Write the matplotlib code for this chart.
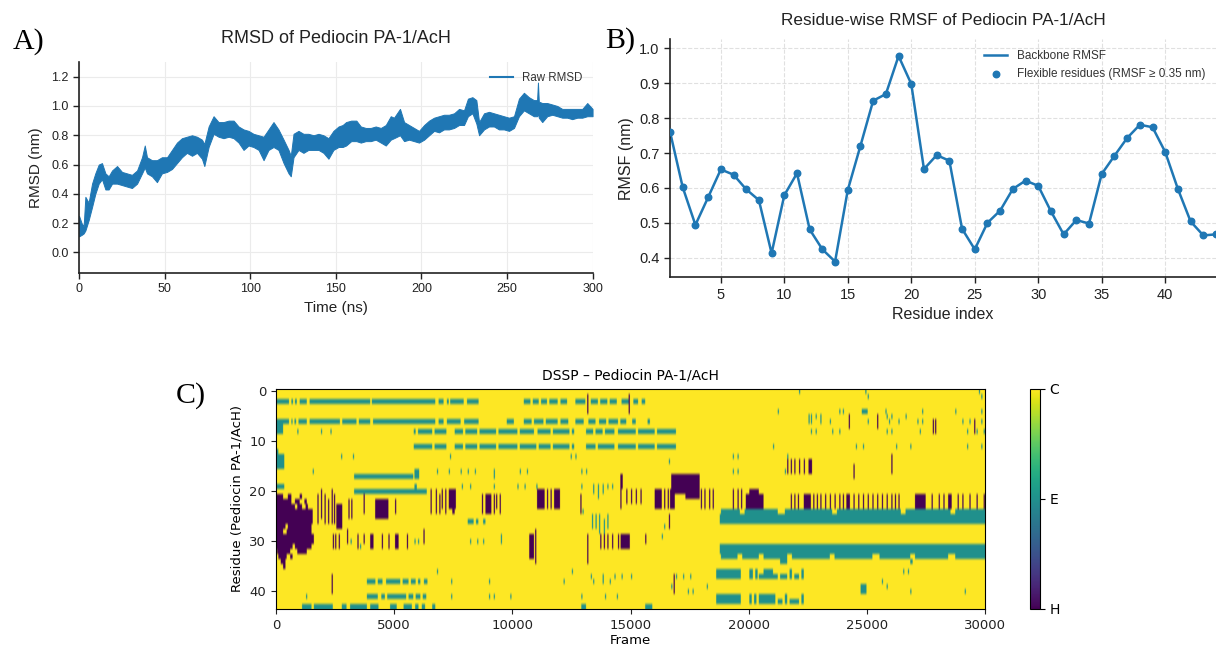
import numpy as np
import matplotlib
matplotlib.use("Agg")
import matplotlib.pyplot as plt

# ---- A) RMSD trace: time (ns) with lower / upper edge of the trace
rmsd_time = [0, 1.5, 2.7, 3.7, 5.6, 7.6, 9.5, 11.5, 13.4, 15.4, 17.3, 19.3, 22.2, 25.1, 28,
             30.9, 33.9, 36.8, 38.4, 39.7, 42.6, 45.5, 48.4, 51.4, 54.3, 57.2, 60.1, 63, 66,
             68.9, 71.8, 73.2, 75.7, 78.6, 81.5, 84.4, 87.4, 90.3, 93.2, 96.1, 99, 101.9,
             104.9, 107.8, 110.7, 113.6, 116.5, 119.5, 122.4, 123.7, 125.3, 128.2, 131.1, 134,
             137, 139.9, 142.8, 145.7, 148.6, 151.6, 154, 156, 159, 162, 164.6, 167.5, 170.4,
             173.3, 176.3, 179.2, 182.1, 184, 187.5, 189.9, 192.8, 195.7, 198.6, 201.6, 204.5,
             207.4, 210.3, 213.2, 216.1, 219.1, 222, 224.9, 227.2, 229.8, 232.1, 233.7, 236.6,
             239.5, 242.4, 245.3, 248.2, 251.2, 254.1, 257, 259.9, 262.8, 265.7, 267.6, 268.1,
             268.6, 270.6, 273.5, 276.5, 279.4, 282.3, 285.2, 288.1, 291.1, 294, 296.9, 300]
rmsd_low = [0.11, 0.12, 0.13, 0.15, 0.22, 0.31, 0.40, 0.47, 0.50, 0.43, 0.43, 0.47, 0.47, 0.46,
            0.45, 0.44, 0.47, 0.54, 0.58, 0.54, 0.52, 0.48, 0.54, 0.55, 0.57, 0.61, 0.65, 0.68,
            0.66, 0.68, 0.64, 0.59, 0.72, 0.81, 0.79, 0.78, 0.79, 0.78, 0.75, 0.70, 0.73, 0.72,
            0.70, 0.63, 0.70, 0.72, 0.70, 0.61, 0.54, 0.52, 0.65, 0.70, 0.68, 0.70, 0.70, 0.70,
            0.68, 0.64, 0.70, 0.72, 0.72, 0.73, 0.76, 0.76, 0.75, 0.76, 0.76, 0.77, 0.75, 0.73,
            0.77, 0.78, 0.80, 0.76, 0.77, 0.76, 0.75, 0.77, 0.80, 0.83, 0.82, 0.84, 0.84, 0.85,
            0.87, 0.87, 0.93, 0.95, 0.88, 0.80, 0.84, 0.86, 0.86, 0.84, 0.84, 0.83, 0.85, 0.93,
            0.97, 0.95, 0.93, 0.93, 0.95, 0.92, 0.89, 0.93, 0.94, 0.93, 0.92, 0.92, 0.91, 0.92,
            0.92, 0.93, 0.93]
rmsd_high = [0.25, 0.20, 0.18, 0.38, 0.34, 0.47, 0.54, 0.60, 0.61, 0.54, 0.52, 0.56, 0.59, 0.55,
             0.54, 0.53, 0.56, 0.65, 0.73, 0.65, 0.63, 0.63, 0.65, 0.65, 0.70, 0.75, 0.78, 0.79,
             0.80, 0.79, 0.77, 0.74, 0.86, 0.93, 0.89, 0.89, 0.90, 0.90, 0.86, 0.84, 0.83, 0.81,
             0.80, 0.79, 0.84, 0.89, 0.84, 0.77, 0.70, 0.66, 0.81, 0.83, 0.81, 0.81, 0.80, 0.81,
             0.80, 0.78, 0.83, 0.86, 0.87, 0.89, 0.90, 0.90, 0.86, 0.85, 0.85, 0.86, 0.85, 0.87,
             0.93, 0.92, 0.98, 0.89, 0.87, 0.85, 0.83, 0.87, 0.90, 0.92, 0.93, 0.94, 0.94, 0.95,
             0.98, 0.97, 1.05, 1.06, 1.04, 0.89, 0.95, 0.96, 0.95, 0.94, 0.93, 0.92, 0.93, 1.05,
             1.09, 1.06, 1.04, 1.04, 1.16, 1.03, 1.02, 1.02, 1.01, 1.00, 0.98, 0.98, 0.98, 0.98,
             0.98, 1.02, 0.98]

# ---- B) RMSF per residue
residues = list(range(1, 45))
rmsf = [0.761, 0.602, 0.494, 0.573, 0.653, 0.638, 0.596, 0.565, 0.413, 0.579, 0.642, 0.481,
        0.424, 0.389, 0.594, 0.721, 0.850, 0.869, 0.978, 0.898, 0.654, 0.694, 0.678, 0.483,
        0.424, 0.500, 0.535, 0.597, 0.621, 0.606, 0.533, 0.467, 0.508, 0.498, 0.640, 0.692,
        0.743, 0.781, 0.774, 0.703, 0.597, 0.504, 0.464, 0.467]

# ---- C) DSSP: runs (first residue, last residue, start, end in 1000 frames)
dssp_states = ["H", "E", "C"]
n_res, n_frames = 44, 30000
E_runs = [
    (2, 2, 0.0, 0.55), (2, 2, 0.65, 0.72), (2, 2, 0.80, 0.88), (2, 2, 1.0, 1.3), (2, 2, 1.42, 3.98),
    (2, 2, 4.05, 6.73), (2, 2, 6.87, 7.08), (2, 2, 7.22, 7.3), (2, 2, 7.36, 7.93), (2, 2, 8.07, 8.56),
    (2, 2, 10.47, 10.75), (2, 2, 10.85, 11.1), (2, 2, 11.2, 11.45), (2, 2, 11.55, 11.9),
    (2, 2, 12.02, 12.3), (2, 2, 12.65, 13.07), (2, 2, 13.3, 13.6), (2, 2, 13.7, 14.0),
    (2, 2, 14.1, 14.4), (2, 2, 14.6, 14.9), (2, 2, 15.1, 15.3), (2, 2, 15.45, 15.6),
    (6, 6, 0.0, 0.55), (6, 6, 0.65, 0.7), (6, 6, 0.78, 0.85), (6, 6, 0.95, 1.3), (6, 6, 1.42, 2.7),
    (6, 6, 2.8, 3.4), (6, 6, 3.5, 3.98), (6, 6, 4.1, 6.73), (6, 6, 6.87, 7.08), (6, 6, 7.22, 7.8),
    (6, 6, 7.95, 8.56), (6, 6, 9.75, 10.05), (6, 6, 10.47, 10.8), (6, 6, 10.9, 11.3),
    (6, 6, 11.4, 11.9), (6, 6, 12.02, 12.35), (6, 6, 12.65, 13.0), (6, 6, 13.2, 13.5),
    (6, 6, 13.65, 13.95), (6, 6, 14.05, 14.45), (6, 6, 14.55, 14.8), (6, 6, 15.05, 15.2),
    (6, 6, 15.7, 15.8), (7, 8, 0.0, 0.3),
    (8, 8, 5.82, 5.9), (8, 8, 6.0, 6.6), (8, 8, 6.7, 7.2), (8, 8, 7.55, 7.9), (8, 8, 8.0, 8.5),
    (8, 8, 8.6, 9.3), (8, 8, 9.4, 10.2), (8, 8, 10.3, 10.9), (8, 8, 11.05, 11.6), (8, 8, 11.7, 12.4),
    (8, 8, 12.5, 12.6), (8, 8, 13.1, 13.4), (8, 8, 13.5, 13.8), (8, 8, 13.9, 14.3),
    (8, 8, 14.45, 15.2), (8, 8, 15.3, 16.0), (8, 8, 16.1, 16.9),
    (11, 11, 5.82, 6.6), (11, 11, 6.7, 7.2), (11, 11, 7.55, 7.9), (11, 11, 8.0, 8.5),
    (11, 11, 8.6, 9.3), (11, 11, 9.4, 10.2), (11, 11, 10.3, 11.0), (11, 11, 11.1, 11.6),
    (11, 11, 11.7, 12.4), (11, 11, 12.5, 12.6), (11, 11, 13.1, 13.5), (11, 11, 13.6, 14.3),
    (11, 11, 14.45, 15.2), (11, 11, 15.3, 16.0), (11, 11, 16.1, 16.9),
    (13, 15, 0.0, 0.35), (12, 12, 0.0, 0.1), (19, 19, 0.0, 0.35),
    (17, 17, 3.3, 5.8), (16, 17, 5.85, 6.05), (20, 20, 3.3, 6.37), (19, 19, 5.85, 5.95),
    (38, 38, 3.84, 4.2), (38, 38, 4.3, 4.5), (38, 38, 4.65, 5.25), (38, 38, 5.35, 5.6),
    (38, 38, 5.7, 5.9), (38, 38, 6.0, 6.1), (38, 38, 6.25, 6.4),
    (41, 41, 3.84, 4.3), (41, 41, 4.45, 4.6), (41, 41, 4.7, 5.5), (41, 41, 5.6, 5.8),
    (41, 41, 5.9, 6.1), (41, 41, 6.2, 6.35),
    (43, 43, 1.1, 1.5), (43, 43, 1.6, 2.4), (43, 43, 2.78, 2.98), (43, 43, 3.13, 3.84),
    (43, 43, 3.98, 4.33), (43, 43, 4.82, 5.1), (43, 43, 5.39, 5.74), (43, 43, 5.88, 6.02),
    (43, 43, 6.16, 6.3), (43, 43, 6.6, 6.73), (43, 43, 12.9, 13.1), (43, 43, 15.6, 15.9),
    (26, 26, 8.1, 8.35), (26, 26, 8.45, 8.55), (26, 26, 8.75, 8.85),
    (24, 24, 18.8, 19.6), (24, 24, 19.8, 21.2), (24, 24, 21.5, 23.5), (24, 24, 23.7, 26.4),
    (24, 24, 26.6, 28.5), (24, 24, 28.7, 30.0), (25, 26, 18.75, 30.0), (31, 32, 18.75, 30.0),
    (33, 33, 18.8, 19.5), (33, 33, 19.7, 20.4), (33, 33, 20.6, 21.6), (33, 33, 21.8, 23.4),
    (33, 33, 23.6, 25.2), (33, 33, 25.5, 26.8), (33, 33, 27.0, 28.4), (33, 33, 28.7, 30.0),
    (34, 34, 21.3, 21.6), (34, 34, 26.8, 26.9),
    (36, 37, 18.6, 19.64), (36, 37, 20.0, 20.15), (36, 37, 20.25, 20.35), (37, 37, 20.4, 21.2),
    (36, 36, 20.6, 21.0), (37, 37, 21.3, 21.6), (36, 37, 21.7, 21.8), (37, 37, 21.9, 22.1),
    (36, 37, 22.2, 22.3),
    (41, 42, 18.6, 19.64), (41, 42, 20.0, 20.1), (41, 42, 20.2, 20.3), (41, 42, 20.4, 21.1),
    (42, 42, 21.2, 21.4), (41, 42, 21.5, 21.6), (42, 42, 21.7, 22.1), (41, 42, 22.2, 22.3),
    (4, 4, 24.75, 25.0), (39, 40, 24.7, 24.95),
]
H_runs = [
    (21, 21, 0.0, 0.3), (21, 21, 0.5, 0.65), (21, 21, 1.0, 1.1), (22, 22, 0.0, 0.65),
    (22, 22, 0.8, 1.0), (22, 22, 1.2, 1.3), (23, 23, 0.0, 0.8), (23, 23, 0.9, 1.1),
    (23, 23, 1.25, 1.35), (24, 26, 0.0, 1.55), (27, 27, 0.0, 0.4), (27, 27, 0.5, 1.5),
    (28, 28, 0.0, 0.3), (28, 28, 0.45, 1.5), (29, 30, 0.0, 1.6), (31, 31, 0.0, 0.7),
    (31, 31, 0.8, 1.5), (32, 32, 0.05, 0.6), (32, 32, 0.9, 1.3), (33, 33, 0.1, 0.45),
    (33, 33, 0.6, 0.7), (34, 34, 0.2, 0.4), (35, 35, 0.3, 0.4),
    (23, 27, 2.55, 2.8), (22, 25, 4.19, 4.75), (29, 31, 3.98, 4.12), (29, 31, 5.03, 5.18),
    (20, 23, 7.3, 7.6), (24, 24, 7.45, 7.55), (21, 24, 8.85, 9.1), (29, 33, 10.7, 10.9),
    (20, 23, 11.03, 11.35), (20, 23, 11.75, 12.0), (29, 31, 14.7, 14.95), (29, 31, 14.56, 14.8),
    (20, 23, 16.0, 16.3), (20, 23, 16.65, 16.85), (17, 20, 16.7, 17.9), (21, 21, 17.3, 17.9),
    (21, 23, 19.85, 20.6), (20, 20, 20.0, 20.4), (21, 23, 22.3, 22.6), (21, 23, 24.1, 24.25),
    (21, 23, 27.0, 27.45), (21, 23, 28.4, 28.55), (14, 16, 22.5, 22.65),
]
# single-frame streaks (first residue, last residue, frame in 1000s)
H_lines = [
    (21, 26, 1.75), (20, 25, 1.9), (21, 26, 2.05), (22, 26, 2.2), (20, 26, 2.35), (21, 26, 2.45),
    (29, 31, 2.4), (29, 31, 2.5), (29, 31, 2.65), (28, 30, 3.0), (22, 25, 3.06), (22, 25, 3.18),
    (29, 31, 3.44), (21, 24, 3.7), (29, 30, 3.7), (29, 31, 4.47), (29, 31, 4.75), (22, 24, 5.03),
    (29, 31, 5.53), (28, 30, 6.23), (20, 24, 6.53), (20, 24, 6.75), (21, 24, 6.9), (20, 23, 7.0),
    (20, 24, 7.15), (21, 24, 8.7), (21, 24, 9.2), (21, 23, 9.3), (21, 24, 9.45), (28, 34, 10.95),
    (20, 23, 11.45), (20, 23, 11.6), (21, 24, 12.86), (1, 4, 13.15), (29, 34, 13.15),
    (29, 31, 13.7), (29, 31, 13.85), (29, 31, 14.0), (29, 31, 14.2), (29, 31, 14.45),
    (17, 23, 14.55), (17, 19, 14.6), (20, 22, 14.8), (20, 22, 15.0), (20, 22, 15.2),
    (20, 22, 15.4), (1, 4, 14.9), (29, 30, 15.6), (20, 23, 16.4), (20, 23, 16.55), (25, 27, 16.6),
    (37, 40, 16.8), (37, 40, 2.35), (20, 23, 17.95), (20, 23, 18.1), (20, 23, 18.3),
    (20, 23, 18.45), (20, 23, 19.3), (20, 23, 19.5), (20, 23, 19.65), (14, 16, 21.6),
    (14, 16, 21.75), (14, 16, 21.9), (14, 16, 22.1), (14, 16, 22.3), (21, 23, 21.75),
    (21, 23, 21.9), (21, 23, 22.05), (21, 23, 22.7), (21, 23, 22.85), (21, 23, 23.0),
    (21, 23, 23.2), (21, 23, 23.4), (21, 23, 23.6), (21, 23, 23.8), (21, 23, 23.95),
    (21, 23, 24.4), (21, 23, 24.6), (21, 23, 24.8), (21, 23, 25.0), (21, 23, 25.2),
    (21, 23, 25.4), (21, 23, 25.6), (21, 23, 25.8), (21, 23, 26.0), (21, 23, 26.15),
    (21, 23, 26.3), (15, 17, 24.4), (13, 16, 26.0), (5, 7, 24.2), (5, 7, 25.4), (6, 8, 27.75),
    (6, 8, 27.85), (6, 8, 29.5), (21, 23, 27.7), (21, 23, 28.0), (21, 23, 28.2), (21, 23, 28.8),
    (21, 23, 29.0), (21, 23, 29.3), (21, 23, 29.6), (21, 23, 29.9),
]
E_lines = [
    (8, 8, 0.9), (8, 8, 1.9), (8, 8, 2.3), (13, 13, 2.75), (13, 13, 3.25), (13, 13, 7.35),
    (13, 13, 12.45), (13, 13, 12.65), (16, 16, 1.55), (16, 16, 6.8), (16, 16, 7.3), (16, 16, 7.8),
    (16, 16, 8.1), (16, 16, 8.4), (16, 17, 9.2), (16, 16, 10.3), (16, 16, 10.6), (16, 16, 12.9),
    (16, 16, 13.1), (19, 19, 7.85), (19, 19, 8.2), (19, 19, 9.2), (19, 19, 10.2), (19, 19, 10.5),
    (19, 19, 11.0), (19, 19, 12.9), (19, 20, 13.4), (19, 21, 13.6), (19, 20, 13.8), (19, 19, 14.0),
    (19, 19, 14.2), (30, 30, 3.15), (30, 30, 5.85), (30, 30, 6.0), (30, 30, 8.2), (30, 30, 8.5),
    (30, 30, 8.75), (29, 30, 9.5), (31, 31, 3.55), (36, 36, 6.8), (36, 36, 12.5), (37, 37, 13.3),
    (37, 37, 13.8), (37, 37, 14.3), (37, 37, 14.6), (37, 37, 15.0), (38, 38, 7.4), (38, 38, 9.0),
    (38, 38, 12.15), (38, 38, 13.4), (38, 38, 13.8), (38, 38, 14.1), (41, 41, 1.27),
    (41, 41, 7.4), (41, 41, 9.0), (41, 41, 9.2), (41, 41, 9.9), (41, 41, 12.9), (41, 41, 13.9),
    (41, 41, 14.4), (25, 27, 13.35), (25, 27, 13.5), (25, 28, 13.65), (26, 28, 13.85),
    (25, 27, 14.0), (24, 24, 12.95), (4, 4, 21.2), (4, 4, 23.8), (4, 4, 23.95), (4, 4, 25.75),
    (4, 4, 27.3), (4, 4, 28.7), (4, 4, 29.8), (5, 5, 22.5), (5, 5, 22.6), (5, 5, 22.8),
    (5, 5, 23.0), (5, 5, 25.8), (5, 5, 26.0), (5, 5, 26.6), (6, 6, 22.5), (6, 6, 22.6),
    (6, 6, 23.0), (6, 6, 23.4), (6, 6, 25.0), (6, 6, 25.9), (6, 6, 26.3), (6, 6, 27.1),
    (6, 6, 27.3), (6, 6, 29.0), (6, 6, 29.3), (6, 6, 29.8), (8, 8, 22.6), (8, 8, 22.8),
    (8, 8, 23.5), (8, 8, 23.8), (8, 8, 25.8), (8, 8, 26.0), (8, 8, 27.2), (8, 8, 29.2),
    (8, 8, 29.6), (8, 8, 29.9), (11, 11, 21.0), (11, 11, 24.5), (11, 11, 24.8), (11, 11, 26.2),
    (11, 11, 26.8), (11, 11, 29.2), (11, 11, 29.8), (13, 13, 19.3), (13, 13, 19.5),
    (13, 13, 21.6), (16, 16, 19.3), (16, 16, 19.5), (16, 16, 21.5), (14, 14, 16.6),
    (0, 0, 22.1), (0, 0, 24.9), (0, 0, 29.7), (1, 1, 25.0), (1, 1, 29.8), (27, 27, 16.4),
    (29, 29, 16.3), (39, 39, 16.7), (37, 37, 16.9), (37, 37, 17.2), (37, 37, 17.5),
    (40, 40, 17.4), (40, 40, 17.6), (39, 39, 18.2), (38, 38, 25.6), (39, 39, 25.8),
    (40, 40, 26.8), (40, 40, 29.1), (36, 36, 26.5), (36, 36, 26.7),
]

blue = "#1f77b4"
sans = ["Liberation Sans", "DejaVu Sans"]

fig = plt.figure(figsize=(12.16, 6.48), dpi=100)

# ---------------- A) RMSD
ax1 = fig.add_axes([0.065, 0.5787, 0.4223, 0.3256])
ax1.fill_between(rmsd_time, rmsd_low, rmsd_high, color=blue, lw=0.7)
ax1.plot([], [], color=blue, lw=1.5, label="Raw RMSD")  # legend handle
ax1.set_xlim(0, 300)
ax1.set_ylim(-0.14, 1.30)
ax1.set_xticks(range(0, 301, 50))
ax1.set_yticks(np.arange(0, 1.21, 0.2))
ax1.set_yticklabels([f"{v:.1f}" for v in np.arange(0, 1.21, 0.2)])
ax1.grid(True, color="#ebebeb", lw=0.8)
ax1.set_axisbelow(True)
for s in ["top", "right"]:
    ax1.spines[s].set_visible(False)
for s in ["left", "bottom"]:
    ax1.spines[s].set_color("#222222")
    ax1.spines[s].set_linewidth(1.2)
ax1.tick_params(labelsize=9, colors="#222222", length=4, width=1)
for lab in ax1.get_xticklabels() + ax1.get_yticklabels():
    lab.set_family(sans)
ax1.set_xlabel("Time (ns)", fontsize=11, family=sans, color="#222222")
ax1.set_ylabel("RMSD (nm)", fontsize=11, family=sans, color="#222222", labelpad=6)
ax1.set_title("RMSD of Pediocin PA-1/AcH", fontsize=13, family=sans, color="#222222", pad=14)
leg1 = ax1.legend(loc="upper right", frameon=False, prop={"family": sans, "size": 8.3})
for t in leg1.get_texts():
    t.set_color("#333333")

# ---------------- B) RMSF
ax2 = fig.add_axes([0.551, 0.5721, 0.4490, 0.3673])
ax2.plot(residues, rmsf, color=blue, lw=1.8, label="Backbone RMSF")
ax2.scatter(residues, rmsf, s=22, color=blue, zorder=3,
            label="Flexible residues (RMSF \u2265 0.35 nm)")
ax2.set_xlim(1, 44)
ax2.set_ylim(0.344, 1.026)
ax2.set_xticks(range(5, 41, 5))
ax2.set_yticks(np.arange(0.4, 1.01, 0.1))
ax2.set_yticklabels([f"{v:.1f}" for v in np.arange(0.4, 1.01, 0.1)])
ax2.grid(True, color="#e0e0e0", lw=0.8, ls="--")
ax2.set_axisbelow(True)
for s in ["top", "right"]:
    ax2.spines[s].set_visible(False)
for s in ["left", "bottom"]:
    ax2.spines[s].set_color("#222222")
    ax2.spines[s].set_linewidth(1.2)
ax2.tick_params(labelsize=10.5, colors="#222222", length=4, width=1)
for lab in ax2.get_xticklabels() + ax2.get_yticklabels():
    lab.set_family(sans)
ax2.set_xlabel("Residue index", fontsize=11.5, family=sans, color="#222222")
ax2.set_ylabel("RMSF (nm)", fontsize=11.5, family=sans, color="#222222")
ax2.set_title("Residue-wise RMSF of Pediocin PA-1/AcH", fontsize=12.3, family=sans,
              color="#222222", pad=10)
leg2 = ax2.legend(loc="upper right", frameon=False, prop={"family": sans, "size": 8.5})
for t in leg2.get_texts():
    t.set_color("#333333")

# ---------------- C) DSSP
step = 10  # frames per column
grid = np.full((n_res, n_frames // step), dssp_states.index("C"), dtype=float)
for state, runs, lines in [("E", E_runs, E_lines), ("H", H_runs, H_lines)]:
    code = dssp_states.index(state)
    for r0, r1, a, b in runs:
        grid[r0:r1 + 1, int(a * 1000 / step):int(b * 1000 / step)] = code
    for r0, r1, k in lines:
        c = int(k * 1000 / step)
        grid[r0:r1 + 1, c:c + 5] = code

ax3 = fig.add_axes([0.227, 0.0602, 0.5831, 0.3395])
im = ax3.imshow(grid, aspect="auto", cmap="viridis", vmin=0, vmax=2,
                extent=(0, n_frames, n_res - 0.5, -0.5))
ax3.set_xticks(range(0, 30001, 5000))
ax3.set_yticks([0, 10, 20, 30, 40])
ax3.tick_params(labelsize=9.5, colors="#222222")
ax3.set_xlabel("Frame", fontsize=9.5, labelpad=2)
ax3.set_ylabel("Residue (Pediocin PA-1/AcH)", fontsize=9.5)
ax3.set_title("DSSP \u2013 Pediocin PA-1/AcH", fontsize=10, pad=7)

cax = fig.add_axes([0.847, 0.0602, 0.0082, 0.3395])
cb = fig.colorbar(im, cax=cax, ticks=[0, 1, 2])
cb.set_ticklabels(dssp_states)
cb.ax.tick_params(labelsize=10)

# panel letters
serif = ["Liberation Serif", "DejaVu Serif"]
fig.text(13 / 1216, 1 - 49 / 648, "A)", fontsize=21.5, family=serif, va="baseline")
fig.text(605 / 1216, 1 - 48 / 648, "B)", fontsize=21.5, family=serif, va="baseline")
fig.text(176 / 1216, 1 - 403 / 648, "C)", fontsize=21.5, family=serif, va="baseline")

fig.savefig("out.png", dpi=100)
